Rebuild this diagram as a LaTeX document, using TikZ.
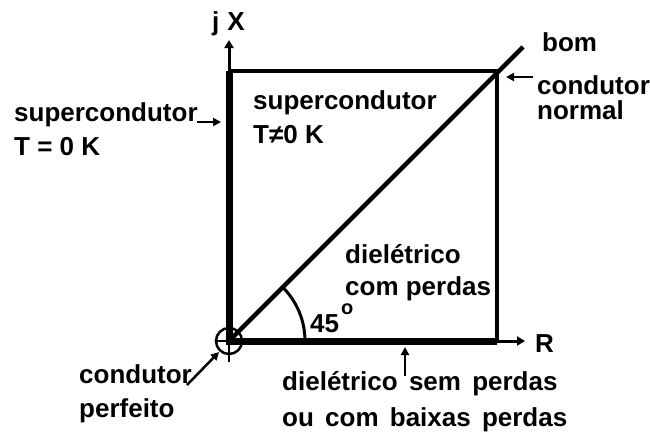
\documentclass[tikz,border=0pt]{standalone}
\usepackage{fontspec}
\setmainfont{Liberation Sans}
\usetikzlibrary{arrows.meta}
\begin{document}
\begin{tikzpicture}[x=1pt,y=-1pt,
  lbl/.style={anchor=base west,inner sep=0pt,font=\fontsize{26}{34}\selectfont\bfseries},
  thickax/.style={line width=7pt},
  thinln/.style={line width=4pt},
  diagln/.style={line width=4.5pt},
  arr/.style={line width=3pt,-{Triangle[length=8pt,width=9pt]}},
  ptr/.style={line width=2.5pt,-{Triangle[length=8pt,width=8pt]}}]
\useasboundingbox (0,0) rectangle (650,432);
% key points
\coordinate (O) at (229,341);
\coordinate (Ytop) at (229,71);
\coordinate (Ytip) at (229,40);
\coordinate (C) at (497,71);
\coordinate (Rb) at (497,341);
\coordinate (Rtip) at (525,341);
\coordinate (D) at (523,47);
% axes and box
\draw[thinln] (Ytop) -- (C) -- (Rb);
\draw[thickax] (229,344.5) -- (Ytop);
\draw[thickax] (O) -- (Rb);
\draw[arr] (Ytop) -- (Ytip);
\draw[arr] (Rb) -- (Rtip);
\draw[diagln] (O) -- (D);
% origin marker
\draw[line width=2.5pt] (O) circle (13);
\draw[line width=2.5pt] (229,341) -- (229,362);
\draw[line width=2.5pt] (216,341) -- (O);
% angle arc
\draw[line width=3pt] (305,341) arc[start angle=0,end angle=-45,radius=76];
% labels
\node[lbl] (jx) at (212,30) {j\hspace{8pt}X};
\node[lbl] (Rl) at (535,352) {R};
\node[lbl] (sc1) at (14,121) {supercondutor};
\node[lbl] (sc1b) at (14,155) {T = 0 K};
\node[lbl] (sc2) at (253,109) {supercondutor};
\node[lbl] (sc2b) at (253,143) {T≠0 K};
\node[lbl] (bom) at (542,51) {bom};
\node[lbl] (cn1) at (537,94) {condutor};
\node[lbl] (cn2) at (537,119) {normal};
\node[lbl] (dc1) at (345,263) {dielétrico};
\node[lbl] (dc2) at (345,295) {com perdas};
\node[lbl] (ang) at (310,332) {45\hspace{2pt}\raisebox{18pt}{\fontsize{20}{20}\selectfont o}};
\node[lbl] (cp1) at (79,383) {condutor};
\node[lbl] (cp2) at (79,417) {perfeito};
\node[lbl] (ds1) at (282,390) {dielétrico\hspace{4pt} sem\hspace{4pt} perdas};
\node[lbl] (ds2) at (282,426) {ou\hspace{4pt} com\hspace{4pt} baixas\hspace{4pt} perdas};
% pointer arrows
\coordinate (p1s) at (197,122);
\coordinate (p1e) at (221,122);
\draw[ptr] (p1s) -- (p1e);
\coordinate (p2s) at (533,77);
\coordinate (p2e) at (506,77);
\draw[ptr] (p2s) -- (p2e);
\coordinate (p3s) at (187,385);
\coordinate (p3e) at (219,352);
\draw[ptr] (p3s) -- (p3e);
\coordinate (p4s) at (405,376);
\coordinate (p4e) at (405,347);
\draw[ptr] (p4s) -- (p4e);
\end{tikzpicture}
\end{document}
